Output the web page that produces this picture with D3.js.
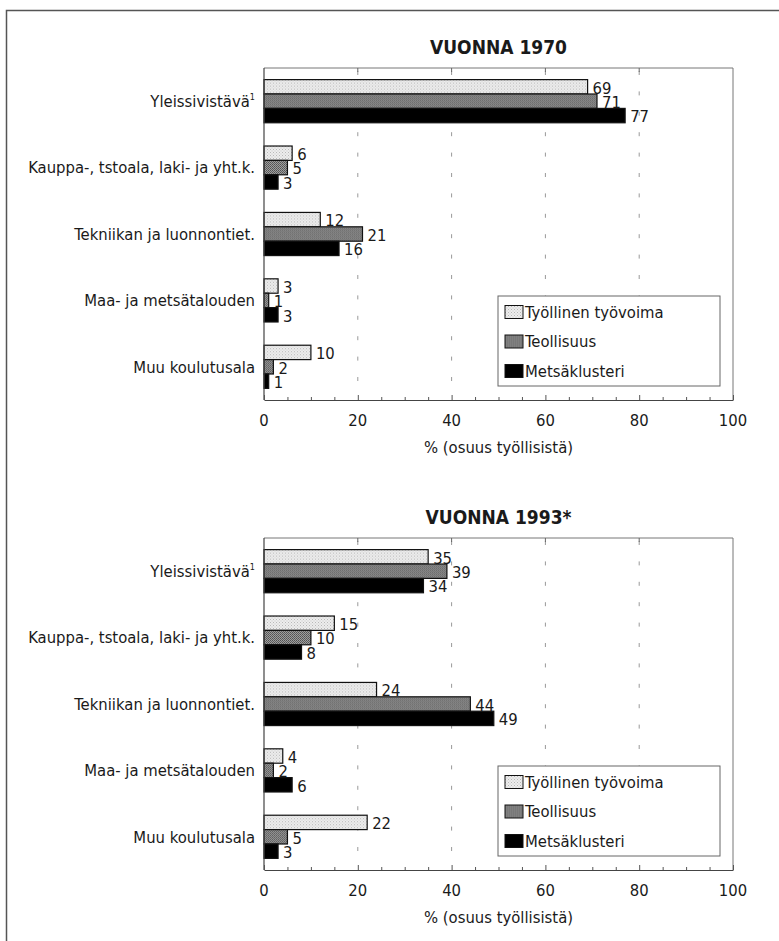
<!DOCTYPE html>
<html>
<head>
<meta charset="utf-8">
<script src="https://cdn.jsdelivr.net/npm/d3@7"></script>
<style>
  body { margin: 0; background: #fff; }
  svg text { font-family: "Liberation Sans Narrow", "DejaVu Sans Condensed", sans-serif; fill: #1a1a1a; }
</style>
</head>
<body>
<div id="chart"></div>
<script>
// categories and series
var categories = ["Yleissivistävä", "Kauppa-, tstoala, laki- ja yht.k.", "Tekniikan ja luonnontiet.", "Maa- ja metsätalouden", "Muu koulutusala"];
var seriesNames = ["Työllinen työvoima", "Teollisuus", "Metsäklusteri"];

// VUONNA 1970
var tyollinen1970 = [69, 6, 12, 3, 10];
var teollisuus1970 = [71, 5, 21, 1, 2];
var metsa1970 = [77, 3, 16, 3, 1];

// VUONNA 1993*
var tyollinen1993 = [35, 15, 24, 4, 22];
var teollisuus1993 = [39, 10, 44, 2, 5];
var metsa1993 = [34, 8, 49, 6, 3];

var xTicks = [0, 20, 40, 60, 80, 100];
var axisTitle = "% (osuus työllisistä)";

var W = 779, H = 941;
var fs = 16.5;

var svg = d3.select("#chart").append("svg")
  .attr("width", W)
  .attr("height", H);

// fill patterns
var defs = svg.append("defs");
var pLight = defs.append("pattern")
  .attr("id", "pat-light")
  .attr("width", 3).attr("height", 3)
  .attr("patternUnits", "userSpaceOnUse");
pLight.append("rect").attr("width", 3).attr("height", 3).attr("fill", "#ededed");
pLight.append("rect").attr("width", 1).attr("height", 1).attr("fill", "#b8b8b8");
pLight.append("rect").attr("x", 1.5).attr("y", 1.5).attr("width", 1).attr("height", 1).attr("fill", "#c8c8c8");

var pMid = defs.append("pattern")
  .attr("id", "pat-mid")
  .attr("width", 2).attr("height", 2)
  .attr("patternUnits", "userSpaceOnUse");
pMid.append("rect").attr("width", 2).attr("height", 2).attr("fill", "#a0a0a0");
pMid.append("rect").attr("width", 1).attr("height", 1).attr("fill", "#505050");
pMid.append("rect").attr("x", 1).attr("y", 1).attr("width", 1).attr("height", 1).attr("fill", "#606060");

var fills = ["url(#pat-light)", "url(#pat-mid)", "#000"];

// outer frame (open to the right / bottom, like the scan)
svg.append("path")
  .attr("d", "M6.5," + (H + 5) + "V10.5H" + (W + 5))
  .attr("fill", "none")
  .attr("stroke", "#555")
  .attr("stroke-width", 1.5);

var x = d3.scaleLinear().domain([0, 100]).range([264, 733]);

function drawPanel(offsetY, title, series) {
  var top = 68, bottom = 400;
  var g = svg.append("g").attr("transform", "translate(0," + offsetY + ")");

  var y = d3.scaleBand()
    .domain(categories)
    .range([top, bottom])
    .paddingInner(0.35)
    .paddingOuter(0.175);

  var ys = d3.scaleBand()
    .domain(seriesNames)
    .range([0, y.bandwidth()]);

  g.append("text")
    .attr("x", (x(0) + x(100)) / 2)
    .attr("y", 47)
    .attr("dy", "0.35em")
    .attr("text-anchor", "middle")
    .attr("font-size", 19)
    .attr("font-weight", "bold")
    .text(title);

  // dashed grid
  g.selectAll(".grid")
    .data([20, 40, 60, 80])
    .enter().append("line")
    .attr("x1", function(d) { return x(d); })
    .attr("x2", function(d) { return x(d); })
    .attr("y1", top + 3)
    .attr("y2", bottom - 4)
    .attr("stroke", "#999")
    .attr("stroke-width", 1)
    .attr("stroke-dasharray", "4,16.4");

  // plot frame
  g.append("path")
    .attr("d", "M" + x(0) + "," + top + "H" + x(100) + "V" + bottom)
    .attr("fill", "none")
    .attr("stroke", "#777")
    .attr("stroke-width", 1);

  // top inner ticks
  g.selectAll(".ttick")
    .data([20, 40, 60, 80])
    .enter().append("line")
    .attr("x1", function(d) { return x(d); })
    .attr("x2", function(d) { return x(d); })
    .attr("y1", top)
    .attr("y2", top + 4)
    .attr("stroke", "#666");

  // bars
  var rows = g.selectAll(".row")
    .data(categories)
    .enter().append("g")
    .attr("transform", function(d) { return "translate(0," + y(d) + ")"; });

  rows.each(function(cat, i) {
    var row = d3.select(this);
    var vals = series.map(function(s, k) { return { name: seriesNames[k], v: s[i], k: k }; });

    row.selectAll("rect")
      .data(vals)
      .enter().append("rect")
      .attr("x", x(0))
      .attr("y", function(d) { return ys(d.name); })
      .attr("width", function(d) { return x(d.v) - x(0); })
      .attr("height", ys.bandwidth())
      .attr("fill", function(d) { return fills[d.k]; })
      .attr("stroke", "#111")
      .attr("stroke-width", 1.2);

    row.selectAll(".val")
      .data(vals)
      .enter().append("text")
      .attr("x", function(d) { return x(d.v) + 5; })
      .attr("y", function(d) { return ys(d.name) + ys.bandwidth() / 2 + 1; })
      .attr("dy", "0.35em")
      .attr("font-size", fs)
      .text(function(d) { return d.v; });
  });

  // category labels
  var lab = g.selectAll(".cat")
    .data(categories)
    .enter().append("text")
    .attr("x", 255)
    .attr("y", function(d) { return y(d) + y.bandwidth() / 2; })
    .attr("dy", "0.35em")
    .attr("text-anchor", "end")
    .attr("font-size", fs);
  lab.append("tspan").text(function(d) { return d; });
  lab.filter(function(d, i) { return i === 0; })
    .append("tspan")
    .attr("font-size", 9)
    .attr("dy", "-0.8em")
    .text("1");

  // left axis line
  g.append("line")
    .attr("x1", x(0)).attr("x2", x(0))
    .attr("y1", top).attr("y2", bottom)
    .attr("stroke", "#444")
    .attr("stroke-width", 1.2);

  // bottom axis: minor ticks every 5, labels every 20
  var axis = d3.axisBottom(x)
    .tickValues(d3.range(0, 101, 5))
    .tickSize(0)
    .tickFormat("");
  var ax = g.append("g")
    .attr("transform", "translate(0," + bottom + ")")
    .call(axis);
  ax.select(".domain").attr("stroke", "#444");
  ax.selectAll(".tick line")
    .attr("y2", function(d) { return d % 20 === 0 ? -5 : -3; })
    .attr("stroke", "#555");

  g.selectAll(".xlab")
    .data(xTicks)
    .enter().append("text")
    .attr("x", function(d) { return x(d); })
    .attr("y", 420)
    .attr("dy", "0.35em")
    .attr("text-anchor", "middle")
    .attr("font-size", fs)
    .text(function(d) { return d; });

  g.append("text")
    .attr("x", (x(0) + x(100)) / 2)
    .attr("y", 447)
    .attr("dy", "0.35em")
    .attr("text-anchor", "middle")
    .attr("font-size", fs)
    .text(axisTitle);

  // legend
  var leg = g.append("g").attr("transform", "translate(498,296)");
  leg.append("rect")
    .attr("width", 222)
    .attr("height", 90)
    .attr("fill", "#fff")
    .attr("stroke", "#666")
    .attr("stroke-width", 1);
  var items = leg.selectAll(".li")
    .data(seriesNames)
    .enter().append("g")
    .attr("transform", function(d, i) { return "translate(7," + (16 + i * 29.5) + ")"; });
  items.append("rect")
    .attr("x", 0).attr("y", -6.5)
    .attr("width", 18).attr("height", 13)
    .attr("fill", function(d, i) { return fills[i]; })
    .attr("stroke", "#111")
    .attr("stroke-width", 1);
  items.append("text")
    .attr("x", 20)
    .attr("dy", "0.35em")
    .attr("font-size", fs)
    .text(function(d) { return d; });
}

drawPanel(0, "VUONNA 1970", [tyollinen1970, teollisuus1970, metsa1970]);
drawPanel(470, "VUONNA 1993*", [tyollinen1993, teollisuus1993, metsa1993]);
</script>
</body>
</html>
